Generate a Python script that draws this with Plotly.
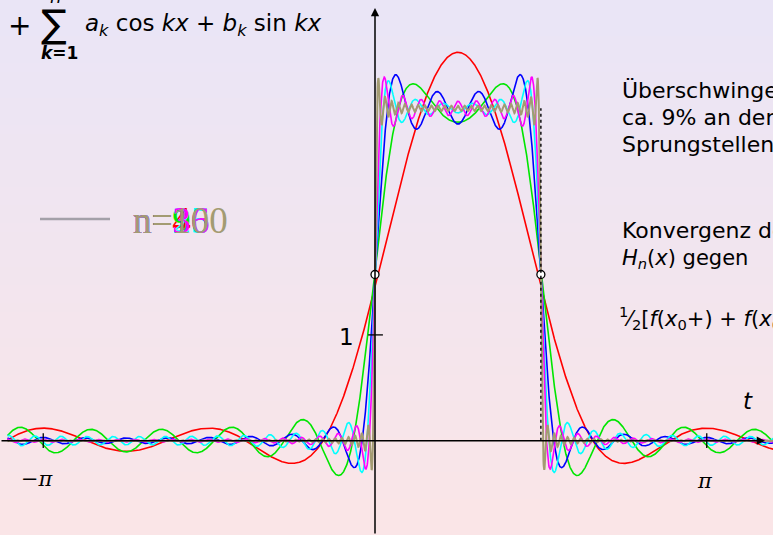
import numpy as np
import plotly.graph_objects as go

# ---------------- data ----------------
# rectangular pulse f(x) = PULSE_HEIGHT on (PULSE_START, PULSE_END), 0 elsewhere, period 2*pi
PULSE_HEIGHT = np.pi
PULSE_START = 0.0
PULSE_END = np.pi / 2
# number of Fourier terms for each partial sum H_n
N_TERMS = [4, 9, 16, 25, 36, 100]
SERIES_COLORS = ["#ff0000", "#00e600", "#0000ff", "#00ffff", "#ff00ff", "#a39b72"]
SERIES_WIDTHS = [1.6, 1.6, 1.6, 1.6, 1.6, 2.0]
X_START, X_END = -3.48, 3.8
X_TICKS = [-np.pi, np.pi]
X_TICK_LABELS = ["−<i>π</i>", "<i>π</i>"]
Y_TICKS = [1]
Y_TICK_LABELS = ["1"]
JUMP_X = [PULSE_START, PULSE_END]
JUMP_Y = [PULSE_HEIGHT / 2, PULSE_HEIGHT / 2]

# ---------------- geometry ----------------
W, H = 773, 535
X0_PX, XS = 375.0, 105.6
Y0_PX, YS = 440.7, 105.8
XR = [(0 - X0_PX) / XS, (W - X0_PX) / XS]
YR = [(Y0_PX - H) / YS, Y0_PX / YS]


def px(xp):
    return xp / W


def py(yp):
    return 1 - yp / H


def partial_sum(x, n):
    h, a, b = PULSE_HEIGHT, PULSE_START, PULSE_END
    s = np.full_like(x, h * (b - a) / (2 * np.pi))
    for k in range(1, n + 1):
        ak = h / (k * np.pi) * (np.sin(k * b) - np.sin(k * a))
        bk = h / (k * np.pi) * (np.cos(k * a) - np.cos(k * b))
        s += ak * np.cos(k * x) + bk * np.sin(k * x)
    return s


x = np.linspace(X_START, X_END, 4000)
fig = go.Figure()

# background gradient (lavender -> pink)
top = np.array([234, 230, 247])
bot = np.array([251, 229, 231])
shapes = []
NB = 60
for i in range(NB):
    t = (i + 0.5) / NB
    c = top * (1 - t) + bot * t
    shapes.append(dict(type="rect", xref="paper", yref="paper",
                       x0=0, x1=1, y0=1 - (i + 1) / NB - 0.002, y1=1 - i / NB,
                       fillcolor="rgb(%d,%d,%d)" % tuple(c.astype(int)),
                       line=dict(width=0), layer="below"))

# ticks
for xt in X_TICKS:
    shapes.append(dict(type="line", xref="x", yref="y", x0=xt, x1=xt, y0=-0.07, y1=0.07,
                       line=dict(color="black", width=1.3)))
for yt in Y_TICKS:
    shapes.append(dict(type="line", xref="x", yref="y", x0=-0.065, x1=0.075, y0=yt, y1=yt,
                       line=dict(color="black", width=1.3)))
# dotted line at the right jump
shapes.append(dict(type="line", xref="x", yref="y", x0=PULSE_END, x1=PULSE_END, y0=0, y1=PULSE_HEIGHT,
                   line=dict(color="black", width=1.4, dash="dot")))
# legend sample line
shapes.append(dict(type="line", xref="paper", yref="paper", x0=px(40), x1=px(110), y0=py(219), y1=py(219),
                   line=dict(color="#a3a0a8", width=2.5)))

for n, col, lw in zip(N_TERMS, SERIES_COLORS, SERIES_WIDTHS):
    fig.add_trace(go.Scatter(x=x, y=partial_sum(x, n), mode="lines",
                             line=dict(color=col, width=lw), name="n=%d" % n,
                             hoverinfo="skip"))

fig.add_trace(go.Scatter(x=JUMP_X, y=JUMP_Y, mode="markers",
                         marker=dict(size=8, color="white", line=dict(color="black", width=1.3)),
                         hoverinfo="skip"))

ann = []
# axes arrows
ann.append(dict(x=(765 - X0_PX) / XS, y=0, ax=XR[0], ay=0, xref="x", yref="y", axref="x", ayref="y",
                showarrow=True, arrowhead=2, arrowsize=1.1, arrowwidth=1.5, arrowcolor="black", text=""))
ann.append(dict(x=0, y=(Y0_PX - 8) / YS, ax=0, ay=YR[0], xref="x", yref="y", axref="x", ayref="y",
                showarrow=True, arrowhead=2, arrowsize=1.1, arrowwidth=1.5, arrowcolor="black", text=""))

SANS = "DejaVu Sans"
SERIF = "DejaVu Serif"


def text(t, xp, yp, size, color="black", family=SANS, xanchor="left"):
    ann.append(dict(x=px(xp), y=py(yp), xref="paper", yref="paper", text=t, showarrow=False,
                    xanchor=xanchor, yanchor="middle", font=dict(size=size, color=color, family=family)))


# tick labels
text(X_TICK_LABELS[0], 37, 479, 21, family=SERIF, xanchor="center")
text(X_TICK_LABELS[1], 705, 481, 21, family=SERIF, xanchor="center")
text(Y_TICK_LABELS[0], 346, 337, 23, xanchor="center")
text("<i>t</i>", 748, 401, 23, xanchor="center")

# formula top-left
text("+", 19, 25, 28, xanchor="center")
text("∑", 54, 24, 38, family="DejaVu Sans", xanchor="center")
text("<i>n</i>", 55, -3, 18, xanchor="center")
text("<b><i>k</i>=1</b>", 59, 53, 17, xanchor="center")
text("<i>a</i><sub><i>k</i></sub> cos <i>kx</i> + <i>b</i><sub><i>k</i></sub> sin <i>kx</i>", 83, 25, 23)

# right side text
text("Überschwingen von", 620, 90, 22)
text("ca. 9% an den", 620, 118, 22)
text("Sprungstellen", 620, 144, 22)
text("Konvergenz der", 620, 230, 22)
text("<i>H</i><sub><i>n</i></sub>(<i>x</i>) gegen", 620, 259, 21)
text("<sup>1</sup>⁄<sub>2</sub>[<i>f</i>(<i>x</i><sub>0</sub>+) + <i>f</i>(<i>x</i><sub>0</sub>−)]", 617, 318, 21)

# overlapped legend labels
for n, col in zip(N_TERMS, SERIES_COLORS):
    text("n=%d" % n, 131, 220, 37, color=col, family="Liberation Serif")

fig.update_layout(
    width=W, height=H, margin=dict(l=0, r=0, t=0, b=0),
    paper_bgcolor="white", plot_bgcolor="rgba(0,0,0,0)",
    showlegend=False,
    xaxis=dict(range=XR, visible=False, fixedrange=True),
    yaxis=dict(range=YR, visible=False, fixedrange=True),
    shapes=shapes, annotations=ann,
)

fig.write_html("out.html", config={"displayModeBar": False},
               post_script="document.body.style.margin='0';document.body.style.overflow='hidden';")
